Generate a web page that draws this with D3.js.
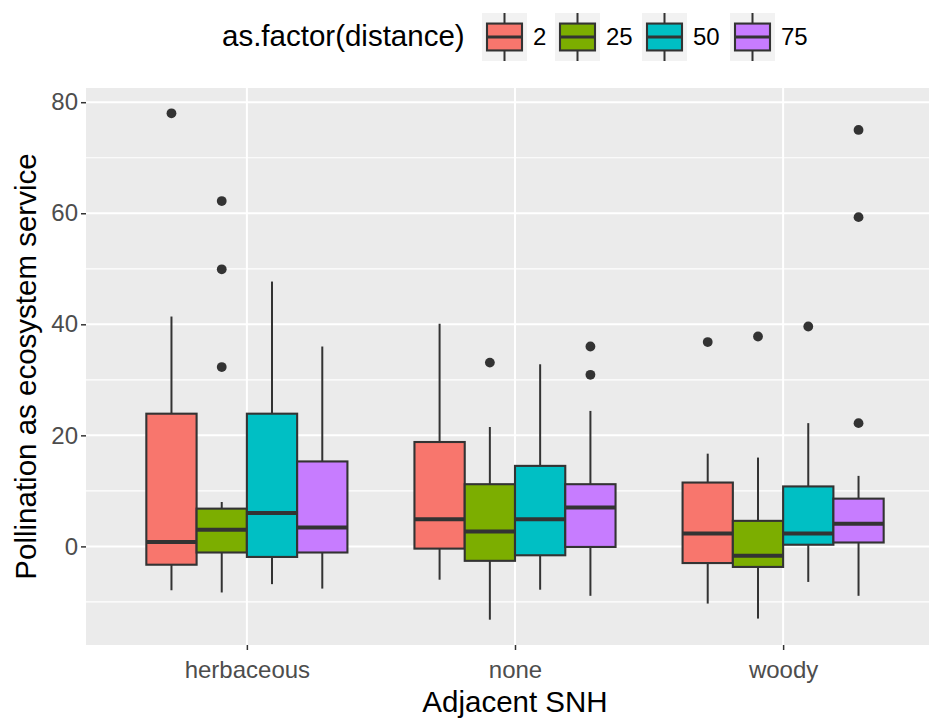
<!DOCTYPE html>
<html>
<head>
<meta charset="utf-8">
<script src="https://cdn.jsdelivr.net/npm/d3@7"></script>
<style>
  body { margin: 0; background: #ffffff; }
  text { font-family: "Liberation Sans", Arial, sans-serif; }
</style>
</head>
<body>
<svg id="chart" width="929" height="720"></svg>
<script>
// Adjacent semi-natural habitat type (x axis)
const categories = ["herbaceous", "none", "woody"];
// Distance classes (fill)
const distances = ["2", "25", "50", "75"];
const fills = ["#F8766D", "#7CAE00", "#00BFC4", "#C77CFF"];

// Box summaries per category: [lower whisker, Q1, median, Q3, upper whisker]
const stats2  = [[-7.9, -3.3, 0.8, 23.9, 41.4], [-6.0, -0.4, 4.9, 18.8, 40.1], [-10.3, -3.0, 2.3, 11.5, 16.7]];
const stats25 = [[-8.3, -1.1, 3.0, 6.8, 8.0],   [-13.2, -2.6, 2.7, 11.2, 21.5], [-13.0, -3.7, -1.7, 4.6, 16.0]];
const stats50 = [[-6.8, -1.9, 6.0, 23.9, 47.7], [-7.8, -1.6, 4.9, 14.5, 32.8], [-6.4, 0.3, 2.3, 10.8, 22.2]];
const stats75 = [[-7.6, -1.1, 3.4, 15.3, 36.0], [-8.9, -0.1, 7.0, 11.2, 24.4], [-8.9, 0.7, 4.1, 8.6, 12.7]];

// Outlying observations per category
const out2  = [[78.0], [], [36.8]];
const out25 = [[62.2, 49.9, 32.3], [33.1], [37.8]];
const out50 = [[], [], [39.6]];
const out75 = [[], [36.0, 30.9], [75.0, 59.3, 22.2]];

const yBreaks = [0, 20, 40, 60, 80];
const yMinor = [-10, 10, 30, 50, 70];

const allStats = [stats2, stats25, stats50, stats75];
const allOut = [out2, out25, out50, out75];

const boxes = [];
const points = [];
distances.forEach((d, j) => {
  categories.forEach((c, i) => {
    const s = allStats[j][i];
    boxes.push({cat: c, dist: d, j, lo: s[0], q1: s[1], med: s[2], q3: s[3], hi: s[4]});
    allOut[j][i].forEach(v => points.push({cat: c, dist: d, j, v}));
  });
});

const svg = d3.select("#chart");
const panel = {left: 86, right: 944, top: 88, bottom: 645};

// y domain: data range with 5% expansion on each side
const vals = boxes.flatMap(b => [b.lo, b.hi]).concat(points.map(p => p.v));
const vmin = d3.min(vals), vmax = d3.max(vals), pad = (vmax - vmin) * 0.05;
const y = d3.scaleLinear().domain([vmin - pad, vmax + pad]).range([panel.bottom, panel.top]);
const x = d3.scalePoint().domain(categories).range([panel.left, panel.right]).padding(0.6);
const dodgeW = x.step() * 0.75;
const sub = d3.scaleBand().domain(distances).range([-dodgeW / 2, dodgeW / 2]);
const bw = sub.bandwidth();

// panel background
svg.append("rect")
  .attr("x", panel.left).attr("y", panel.top)
  .attr("width", panel.right - panel.left).attr("height", panel.bottom - panel.top)
  .attr("fill", "#EBEBEB");

// grid
const grid = svg.append("g");
grid.selectAll(".minor").data(yMinor).join("line")
  .attr("x1", panel.left).attr("x2", panel.right)
  .attr("y1", d => y(d)).attr("y2", d => y(d))
  .attr("stroke", "#ffffff").attr("stroke-width", 1.2);
grid.selectAll(".major").data(yBreaks).join("line")
  .attr("x1", panel.left).attr("x2", panel.right)
  .attr("y1", d => y(d)).attr("y2", d => y(d))
  .attr("stroke", "#ffffff").attr("stroke-width", 2);
grid.selectAll(".vmajor").data(categories).join("line")
  .attr("y1", panel.top).attr("y2", panel.bottom)
  .attr("x1", d => x(d)).attr("x2", d => x(d))
  .attr("stroke", "#ffffff").attr("stroke-width", 2);

// boxplots
const ink = "#333333";
const g = svg.append("g");
const bx = b => x(b.cat) + sub(b.dist);
g.selectAll(".whisk").data(boxes).join("g").each(function (b) {
  const el = d3.select(this);
  const cx = bx(b) + bw / 2;
  el.append("line").attr("x1", cx).attr("x2", cx).attr("y1", y(b.hi)).attr("y2", y(b.q3))
    .attr("stroke", ink).attr("stroke-width", 2);
  el.append("line").attr("x1", cx).attr("x2", cx).attr("y1", y(b.q1)).attr("y2", y(b.lo))
    .attr("stroke", ink).attr("stroke-width", 2);
  el.append("rect").attr("x", bx(b)).attr("width", bw)
    .attr("y", y(b.q3)).attr("height", y(b.q1) - y(b.q3))
    .attr("fill", fills[b.j]).attr("stroke", ink).attr("stroke-width", 2.1);
  el.append("line").attr("x1", bx(b)).attr("x2", bx(b) + bw).attr("y1", y(b.med)).attr("y2", y(b.med))
    .attr("stroke", ink).attr("stroke-width", 4);
});
g.selectAll("circle").data(points).join("circle")
  .attr("cx", p => x(p.cat) + sub(p.dist) + bw / 2)
  .attr("cy", p => y(p.v))
  .attr("r", 4.9)
  .attr("fill", ink);

// axes
const tickCol = "#333333", labCol = "#4D4D4D";
const yAxis = svg.append("g").attr("transform", `translate(${panel.left},0)`)
  .call(d3.axisLeft(y).tickValues(yBreaks).tickSize(5).tickPadding(3));
yAxis.select(".domain").remove();
yAxis.selectAll("line").attr("stroke", tickCol).attr("stroke-width", 1.5);
yAxis.selectAll("text").attr("fill", labCol).attr("font-size", 24);

const xAxis = svg.append("g").attr("transform", `translate(0,${panel.bottom})`)
  .call(d3.axisBottom(x).tickSize(5).tickPadding(11));
xAxis.select(".domain").remove();
xAxis.selectAll("line").attr("stroke", tickCol).attr("stroke-width", 1.5);
xAxis.selectAll("text").attr("fill", labCol).attr("font-size", 24);

// axis titles
svg.append("text").attr("x", (panel.left + panel.right) / 2).attr("y", 712)
  .attr("text-anchor", "middle").attr("font-size", 29.5).attr("fill", "#000")
  .text("Adjacent SNH");
svg.append("text")
  .attr("transform", `translate(36,${(panel.top + panel.bottom) / 2}) rotate(-90)`)
  .attr("text-anchor", "middle").attr("font-size", 29.5).attr("fill", "#000")
  .text("Pollination as ecosystem service");

// legend
const leg = svg.append("g");
leg.append("text").attr("x", 222).attr("y", 46).attr("font-size", 29.5).attr("fill", "#000")
  .text("as.factor(distance)");
const keyX = [482, 555, 642, 730];
const keyW = 45, keyTop = 13, keyH = 48;
const item = leg.selectAll(".key").data(distances).join("g")
  .attr("transform", (d, i) => `translate(${keyX[i]},${keyTop})`);
item.append("rect").attr("width", keyW).attr("height", keyH).attr("fill", "#F2F2F2");
item.append("line").attr("x1", keyW / 2).attr("x2", keyW / 2).attr("y1", 0).attr("y2", keyH)
  .attr("stroke", ink).attr("stroke-width", 2);
item.append("rect").attr("x", 5).attr("width", keyW - 10).attr("y", keyH * 0.22).attr("height", keyH * 0.56)
  .attr("fill", (d, i) => fills[i]).attr("stroke", ink).attr("stroke-width", 2.1);
item.append("line").attr("x1", 5).attr("x2", keyW - 5).attr("y1", keyH / 2).attr("y2", keyH / 2)
  .attr("stroke", ink).attr("stroke-width", 3);
item.append("text").attr("x", keyW + 6).attr("y", keyH / 2).attr("dy", "0.35em")
  .attr("font-size", 24).attr("fill", "#000").text(d => d);
</script>
</body>
</html>
